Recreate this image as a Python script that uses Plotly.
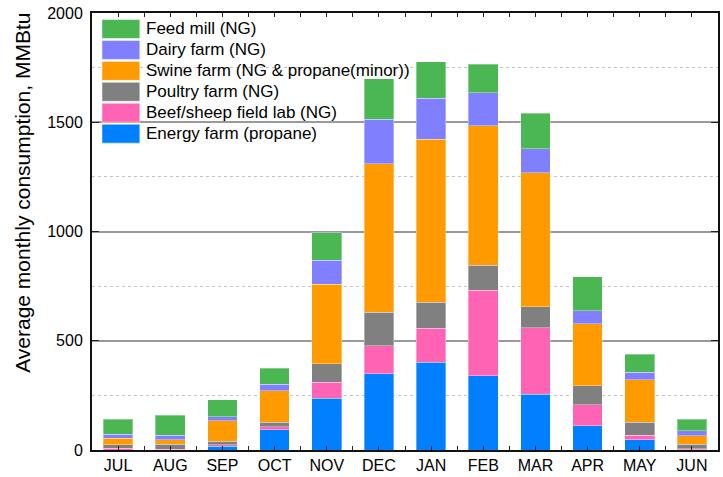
import plotly.graph_objects as go

months = ["JUL", "AUG", "SEP", "OCT", "NOV", "DEC", "JAN", "FEB", "MAR", "APR", "MAY", "JUN"]

energy_farm = [0, 0, 18, 93, 238, 348, 401, 339, 255, 112, 48, 2]
beef_sheep = [7, 3, 5, 13, 73, 128, 157, 392, 304, 95, 20, 3]
poultry_farm = [16, 24, 18, 20, 83, 155, 118, 114, 96, 86, 58, 22]
swine_farm = [30, 21, 93, 146, 364, 680, 747, 638, 613, 284, 195, 38]
dairy_farm = [18, 20, 19, 30, 110, 203, 187, 151, 110, 61, 35, 24]
feed_mill = [70, 90, 76, 73, 126, 184, 167, 131, 163, 155, 82, 51]

series = [
    ("Energy farm (propane)", energy_farm, "#0080FF"),
    ("Beef/sheep field lab (NG)", beef_sheep, "#FF64B4"),
    ("Poultry farm (NG)", poultry_farm, "#808080"),
    ("Swine farm (NG & propane(minor))", swine_farm, "#FF9A00"),
    ("Dairy farm (NG)", dairy_farm, "#8080FF"),
    ("Feed mill (NG)", feed_mill, "#4BB752"),
]

FONT = "Liberation Sans, Arial, sans-serif"
W, H = 723, 477
L, R, T, B = 92, 3, 13, 26
PW, PH = W - L - R, H - T - B

x_idx = list(range(len(months)))

fig = go.Figure()
for name, vals, color in series:
    fig.add_trace(go.Bar(
        x=x_idx, y=vals, name=name, width=0.57,
        marker=dict(color=color, line=dict(color="rgba(255,255,255,0.35)", width=1)),
        showlegend=False,
    ))


def px_x(px):
    return (px - L) / PW


def px_y(py):
    return (H - B - py) / PH


# hand-built legend with large swatches, top entry first
shapes = []
annotations = []
row_top, row_pitch, sw_h = 19.5, 21.0, 19.0
for i, (name, _, color) in enumerate(reversed(series)):
    y0 = row_top + i * row_pitch
    shapes.append(dict(
        type="rect", xref="paper", yref="paper",
        x0=px_x(102), x1=px_x(140), y0=px_y(y0 + sw_h), y1=px_y(y0),
        fillcolor=color, line=dict(color="rgba(255,255,255,0.5)", width=1), layer="above",
    ))
    annotations.append(dict(
        xref="paper", yref="paper", x=px_x(144), y=px_y(y0 + sw_h / 2),
        text=name, showarrow=False, xanchor="left", yanchor="middle",
        font=dict(family=FONT, size=17, color="#000"),
    ))

annotations.append(dict(
    xref="paper", yref="paper", x=px_x(22), y=px_y(193),
    text="Average monthly consumption, MMBtu", textangle=-90, showarrow=False,
    xanchor="center", yanchor="middle", font=dict(family=FONT, size=21, color="#000"),
))

fig.update_layout(
    width=W, height=H,
    margin=dict(l=L, r=R, t=T, b=B),
    barmode="stack",
    plot_bgcolor="white", paper_bgcolor="white",
    font=dict(family=FONT, size=16, color="#000"),
    shapes=shapes, annotations=annotations,
    showlegend=False,
)

fig.update_xaxes(
    range=[-0.5, len(months) - 0.5],
    tickmode="array", tickvals=x_idx, ticktext=months,
    ticks="inside", ticklen=4, tickcolor="#222",
    minor=dict(tickmode="linear", tick0=0.5, dtick=1, ticks="inside", ticklen=4, tickcolor="#222"),
    showline=True, linecolor="#111", linewidth=2, mirror="ticks",
    showgrid=False, zeroline=False,
    tickfont=dict(family=FONT, size=16, color="#000"),
)

fig.update_yaxes(
    range=[0, 2000], dtick=500, tick0=0,
    ticks="inside", ticklen=7, tickcolor="#222",
    showline=True, linecolor="#111", linewidth=2, mirror="ticks",
    showgrid=True, gridcolor="#999999", gridwidth=1.5,
    minor=dict(dtick=250, showgrid=True, gridcolor="#C4C4C4", griddash="dot", gridwidth=1.2,
               ticks=""),
    zeroline=False,
    tickfont=dict(family=FONT, size=16, color="#000"),
    ticklabelstandoff=4,
)

fig.write_html("out.html")
